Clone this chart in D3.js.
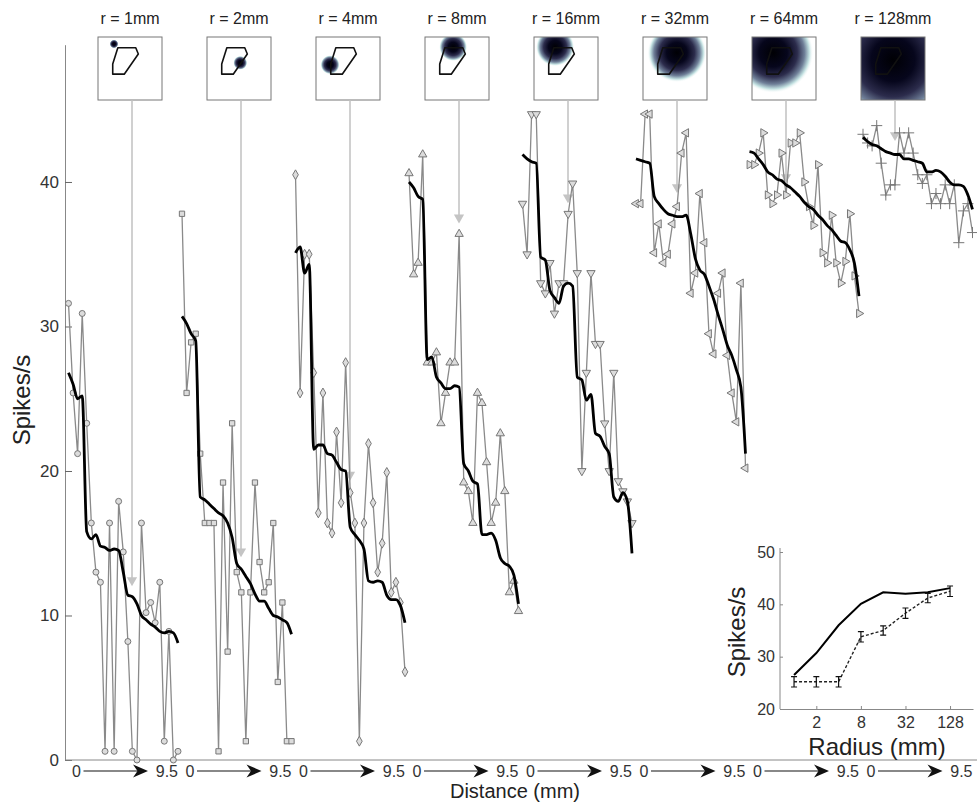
<!DOCTYPE html>
<html>
<head>
<meta charset="utf-8">
<script src="https://cdn.jsdelivr.net/npm/d3@7"></script>
<style>
  body { margin: 0; background: #fff; }
  svg { display: block; font-family: "Liberation Sans", Arial, sans-serif; }
</style>
</head>
<body>
<div id="chart"></div>
<script>
// stimulus radius for each panel (mm)
const radii = [1, 2, 4, 8, 16, 32, 64, 128];
const markers = ["circle", "square", "diamond", "triUp", "triDown", "triLeft", "triRight", "plus"];

// positions along the 0 -> 9.5 mm path
const distances = [0, 0.4, 0.79, 1.19, 1.58, 1.98, 2.38, 2.77, 3.17, 3.56, 3.96, 4.35, 4.75,
    5.15, 5.54, 5.94, 6.33, 6.73, 7.13, 7.52, 7.92, 8.31, 8.71, 9.1, 9.5];

// measured responses (grey markers), one list per radius
const resp1 = [31.6, 25.4, 21.2, 30.9, 23.3, 16.4, 13.0, 12.3, 0.6, 16.4, 0.6, 17.9, 14.4, 8.2, 0.6, 0.0, 16.4, 10.2, 10.9, 9.5, 12.3, 1.3, 8.9, 0.0, 0.6];
const resp2 = [37.8, 25.4, 28.9, 29.5, 21.2, 16.4, 16.4, 16.4, 0.6, 19.2, 7.5, 23.3, 13.0, 11.6, 1.3, 11.6, 19.2, 13.7, 11.6, 12.3, 16.4, 5.4, 10.9, 1.3, 1.3];
const resp3 = [40.5, 25.4, 35.0, 35.0, 26.8, 17.1, 25.4, 16.4, 15.7, 22.7, 17.8, 27.5, 18.5, 16.4, 1.3, 16.4, 21.9, 17.8, 13.0, 15.0, 19.9, 11.6, 12.3, 10.9, 6.1];
const resp4 = [40.6, 33.6, 34.4, 41.9, 27.5, 27.5, 28.2, 23.3, 25.4, 27.5, 27.5, 36.4, 19.2, 18.6, 16.4, 25.4, 24.7, 20.6, 16.4, 17.8, 22.6, 18.6, 11.6, 12.4, 10.3];
const resp5 = [38.5, 35.0, 44.7, 44.7, 33.0, 32.3, 34.4, 30.9, 33.0, 33.0, 37.8, 39.9, 33.7, 20.0, 26.8, 33.7, 28.8, 28.8, 23.3, 20.0, 26.8, 19.3, 18.6, 17.9, 16.4];
const resp6 = [38.5, 38.5, 44.7, 44.7, 35.1, 37.1, 34.4, 35.0, 37.1, 38.3, 42.0, 43.4, 32.3, 33.7, 39.2, 35.8, 29.5, 28.1, 32.3, 33.7, 28.0, 25.4, 23.4, 33.0, 20.2];
const resp7 = [41.2, 41.2, 42.0, 43.4, 39.1, 38.5, 39.1, 42.0, 39.1, 42.7, 42.7, 43.4, 40.0, 38.3, 37.0, 41.2, 35.1, 34.4, 37.7, 34.4, 33.0, 34.5, 37.8, 33.5, 30.9];
const resp8 = [43.3, 42.7, 42.5, 43.9, 41.3, 39.1, 39.8, 39.8, 43.4, 42.0, 43.4, 42.0, 40.5, 39.9, 40.5, 38.5, 39.2, 38.5, 39.8, 38.5, 39.8, 35.8, 38.0, 38.5, 36.5];

// smoothed responses (black curves)
const smooth1 = [26.8, 26.0, 25.0, 25.2, 15.8, 15.3, 15.6, 14.8, 14.7, 14.5, 14.6, 14.5, 13.0, 11.4, 11.3, 10.8, 10.0, 9.7, 9.4, 9.2, 8.9, 8.8, 8.9, 8.8, 8.1];
const smooth2 = [30.7, 30.2, 29.5, 29.0, 18.2, 18.0, 17.7, 17.4, 17.1, 16.9, 16.4, 15.4, 13.6, 13.2, 12.7, 12.2, 11.5, 11.0, 11.0, 10.5, 10.0, 9.9, 9.7, 9.5, 8.7];
const smooth3 = [35.1, 35.5, 33.7, 34.3, 21.5, 21.8, 21.8, 21.2, 21.1, 20.6, 20.1, 20.0, 16.1, 15.6, 15.2, 14.6, 12.4, 12.3, 12.4, 12.3, 11.4, 11.1, 11.1, 10.7, 9.5];
const smooth4 = [40.0, 39.6, 39.0, 38.8, 27.7, 27.9, 26.5, 26.1, 25.7, 25.7, 25.9, 25.8, 20.5, 20.0, 19.3, 19.1, 15.6, 15.6, 15.7, 15.2, 14.0, 13.6, 13.4, 12.8, 10.8];
const smooth5 = [41.9, 41.6, 41.4, 41.3, 34.8, 34.6, 32.5, 32.0, 31.6, 32.8, 33.0, 32.8, 26.5, 26.3, 24.9, 25.3, 22.6, 22.4, 21.7, 21.2, 18.2, 17.9, 18.5, 17.9, 14.3];
const smooth6 = [41.6, 41.5, 41.4, 41.3, 39.0, 38.5, 38.1, 37.8, 37.7, 37.6, 37.6, 37.7, 36.4, 34.7, 33.9, 33.6, 32.8, 31.9, 30.8, 29.8, 28.7, 28.0, 27.0, 25.8, 21.2];
const smooth7 = [42.1, 42.0, 41.6, 41.2, 40.7, 40.5, 40.2, 40.1, 39.8, 39.6, 39.3, 39.0, 38.6, 38.3, 38.1, 37.7, 37.4, 37.0, 36.7, 36.3, 35.9, 35.8, 35.3, 34.4, 32.1];
const smooth8 = [43.1, 42.8, 42.6, 42.5, 42.3, 42.1, 42.0, 41.9, 41.9, 41.6, 41.6, 41.5, 41.4, 41.3, 40.7, 40.7, 40.8, 40.7, 40.4, 40.0, 39.8, 39.8, 39.7, 39.1, 38.1];

// response with the stimulus on the RF centre (grey arrows)
const centreResp = [12.3, 14.3, 19.6, 37.4, 38.8, 39.5, 40.2, 43.1];

// inset: peak of smoothed curve, and mean +- error, against radius
const peakResp = [26.5, 30.7, 36.0, 40.1, 42.3, 42.0, 42.3, 43.1];
const meanResp = [25.2, 25.2, 25.2, 33.8, 35.0, 38.3, 41.2, 42.5];
const meanErr = [1.0, 1.0, 1.0, 1.0, 0.9, 1.0, 0.9, 1.0];

// stimulus spot in each thumbnail: centre x, centre y, radius (fraction of box)
const spots = [[0.25, 0.11, 0.07], [0.52, 0.41, 0.11], [0.22, 0.44, 0.15], [0.44, 0.16, 0.22],
    [0.33, 0.16, 0.30], [0.53, 0.25, 0.46], [0.33, 0.25, 0.63], [0.5, 0.36, 0.97]];
// receptive field outline (fraction of box)
const rfOutline = [[0.31, 0.17], [0.59, 0.17], [0.63, 0.27], [0.41, 0.59], [0.23, 0.59], [0.23, 0.43]];

const responses = [resp1, resp2, resp3, resp4, resp5, resp6, resp7, resp8];
const smoothed = [smooth1, smooth2, smooth3, smooth4, smooth5, smooth6, smooth7, smooth8];

const width = 977, height = 802;
const svg = d3.select("#chart").append("svg")
    .attr("width", width)
    .attr("height", height);

const y = d3.scaleLinear().domain([0, 49.5]).range([760, 44.7]);
const panelX = d3.scaleLinear().domain([0, 7]).range([68.5, 863]);
const panelW = 109.5;
const boxX = d3.scaleLinear().domain([0, 7]).range([98, 861]);
const boxW = 64, boxH = 63, boxTop = 37;

// marker shapes
const sym = {
    circle: d3.symbol(d3.symbolCircle, 28)(),
    square: d3.symbol(d3.symbolSquare, 28)(),
    diamond: d3.symbol(d3.symbolDiamond, 28)(),
    triUp: d3.symbol(d3.symbolTriangle, 30)(),
    triDown: d3.symbol(d3.symbolTriangle, 30)(),
    triLeft: d3.symbol(d3.symbolTriangle, 30)(),
    triRight: d3.symbol(d3.symbolTriangle, 30)(),
    plus: d3.symbol(d3.symbolPlus, 42)()
};
const rot = { triDown: 180, triLeft: -90, triRight: 90 };

// gradient for the stimulus spots (bone-like colour map)
const defs = svg.append("defs");
const grad = defs.append("radialGradient").attr("id", "spot");
[[0, "#000004", 1], [0.35, "#06061c", 1], [0.6, "#2c2c4c", 1], [0.78, "#6f7f98", 1],
 [0.9, "#c4e2e2", 1], [1, "#ffffff", 0]].forEach(s => {
    grad.append("stop").attr("offset", s[0]).attr("stop-color", s[1]).attr("stop-opacity", s[2]);
});

// y axis
svg.append("g")
    .attr("transform", "translate(65,0)")
    .call(d3.axisLeft(y).tickValues([0, 10, 20, 30, 40]).tickSizeInner(-7).tickSizeOuter(0).tickPadding(6))
    .call(g => g.select(".domain").attr("stroke", "#888"))
    .call(g => g.selectAll(".tick line").attr("stroke", "#666"))
    .call(g => g.selectAll("text").attr("font-size", 17).attr("fill", "#333")
        .attr("font-family", "Liberation Sans, Arial, sans-serif"));

svg.append("line")
    .attr("x1", 65).attr("x2", width)
    .attr("y1", y(0)).attr("y2", y(0))
    .attr("stroke", "#888");

svg.append("text")
    .attr("transform", "translate(30,400) rotate(-90)")
    .attr("text-anchor", "middle")
    .attr("font-size", 24)
    .attr("fill", "#222")
    .text("Spikes/s");

const line = d3.line().curve(d3.curveMonotoneX);

radii.forEach((r, k) => {
    const x = d3.scaleLinear().domain([0, 9.5]).range([panelX(k), panelX(k) + panelW]);
    const bx = boxX(k);
    const g = svg.append("g");

    // thumbnail
    const clipId = "clip" + k;
    defs.append("clipPath").attr("id", clipId)
        .append("rect").attr("x", bx).attr("y", boxTop).attr("width", boxW).attr("height", boxH);
    const sp = spots[k];
    g.append("circle")
        .attr("clip-path", `url(#${clipId})`)
        .attr("cx", bx + sp[0] * boxW)
        .attr("cy", boxTop + sp[1] * boxH)
        .attr("r", sp[2] * boxW)
        .attr("fill", "url(#spot)");
    g.append("path")
        .attr("d", d3.line()(rfOutline.map(p => [bx + p[0] * boxW, boxTop + p[1] * boxH])) + "Z")
        .attr("fill", "none")
        .attr("stroke", "#111")
        .attr("stroke-width", 1.6)
        .attr("stroke-linejoin", "round");
    g.append("rect")
        .attr("x", bx).attr("y", boxTop)
        .attr("width", boxW).attr("height", boxH)
        .attr("fill", "none")
        .attr("stroke", "#777")
        .attr("stroke-width", 1);
    g.append("text")
        .attr("x", bx + boxW / 2).attr("y", 24)
        .attr("text-anchor", "middle")
        .attr("font-size", 16)
        .attr("fill", "#222")
        .text(`r = ${r}mm`);

    // grey pointer to the RF centre response
    const ax = bx + boxW / 2 + 2;
    g.append("line")
        .attr("x1", ax).attr("x2", ax)
        .attr("y1", boxTop + boxH).attr("y2", y(centreResp[k]) - 4)
        .attr("stroke", "#c0c0c0")
        .attr("stroke-width", 1.5);
    g.append("path")
        .attr("transform", `translate(${ax},${y(centreResp[k]) - 2}) rotate(180)`)
        .attr("d", d3.symbol(d3.symbolTriangle, 45)())
        .attr("fill", "#c4c4c4");

    // measured responses
    const pts = distances.map((d, i) => [x(d), y(responses[k][i])]);
    g.append("path")
        .attr("d", d3.line()(pts))
        .attr("fill", "none")
        .attr("stroke", "#8a8a8a")
        .attr("stroke-width", 1.3);
    g.selectAll(".mk")
        .data(pts)
        .join("path")
        .attr("transform", d => `translate(${d[0]},${d[1]}) rotate(${rot[markers[k]] || 0})`)
        .attr("d", sym[markers[k]])
        .attr("fill", markers[k] === "plus" ? "none" : "#dcdcdc")
        .attr("stroke", "#777")
        .attr("stroke-width", 1);

    // smoothed curve
    g.append("path")
        .attr("d", line(distances.map((d, i) => [x(d), y(smoothed[k][i])])))
        .attr("fill", "none")
        .attr("stroke", "#000")
        .attr("stroke-width", 2.8)
        .attr("stroke-linejoin", "round");

    // distance labels below the axis
    const lab = svg.append("g").attr("fill", "#333").attr("font-size", 16);
    lab.append("text").attr("x", x(0) + 8).attr("y", 777).attr("text-anchor", "middle").text("0");
    lab.append("text").attr("x", x(9.5)).attr("y", 777).attr("text-anchor", "end").text("9.5");
    lab.append("line")
        .attr("x1", x(0) + 15).attr("x2", x(9.5) - 36)
        .attr("y1", 771).attr("y2", 771)
        .attr("stroke", "#888").attr("stroke-width", 2);
    lab.append("path")
        .attr("transform", `translate(${x(9.5) - 30},771)`)
        .attr("d", "M0,0L-15,-6.5L-10.5,0L-15,6.5Z")
        .attr("fill", "#111");
});

svg.append("text")
    .attr("x", 515).attr("y", 798)
    .attr("text-anchor", "middle")
    .attr("font-size", 20)
    .attr("fill", "#222")
    .text("Distance (mm)");

// inset: response vs radius
const xi = d3.scaleLog().base(2).domain([2 ** -0.63, 2 ** 8.03]).range([780, 973]);
const yi = d3.scaleLinear().domain([20, 50]).range([709, 552]);
const inset = svg.append("g");

inset.append("g")
    .attr("transform", "translate(780,0)")
    .call(d3.axisLeft(yi).tickValues([20, 30, 40, 50]).tickSizeInner(-3).tickSizeOuter(0).tickPadding(5))
    .call(g => g.select(".domain").attr("stroke", "#888").attr("d", "M0,548V709"))
    .call(g => g.selectAll(".tick line").attr("stroke", "#888"))
    .call(g => g.selectAll("text").attr("font-size", 16).attr("fill", "#333")
        .attr("font-family", "Liberation Sans, Arial, sans-serif"));

inset.append("g")
    .attr("transform", "translate(0,709)")
    .call(d3.axisBottom(xi).tickValues([2, 8, 32, 128]).tickFormat(d3.format("d"))
        .tickSizeInner(-3).tickSizeOuter(0).tickPadding(8))
    .call(g => g.select(".domain").attr("stroke", "#888"))
    .call(g => g.selectAll(".tick line").attr("stroke", "#888"))
    .call(g => g.selectAll("text").attr("font-size", 16).attr("fill", "#333")
        .attr("font-family", "Liberation Sans, Arial, sans-serif"));

inset.append("path")
    .attr("d", d3.line()(radii.map((r, i) => [xi(r), yi(peakResp[i])])))
    .attr("fill", "none")
    .attr("stroke", "#000")
    .attr("stroke-width", 2);

inset.append("path")
    .attr("d", d3.line()(radii.map((r, i) => [xi(r), yi(meanResp[i])])))
    .attr("fill", "none")
    .attr("stroke", "#222")
    .attr("stroke-width", 1.4)
    .attr("stroke-dasharray", "3,2");

inset.selectAll(".eb")
    .data(radii.map((r, i) => ({ x: xi(r), lo: yi(meanResp[i] - meanErr[i]), hi: yi(meanResp[i] + meanErr[i]) })))
    .join("path")
    .attr("d", d => `M${d.x},${d.lo}V${d.hi}M${d.x - 3},${d.lo}H${d.x + 3}M${d.x - 3},${d.hi}H${d.x + 3}`)
    .attr("fill", "none")
    .attr("stroke", "#111")
    .attr("stroke-width", 1.2);

inset.append("text")
    .attr("transform", "translate(745,632) rotate(-90)")
    .attr("text-anchor", "middle")
    .attr("font-size", 24)
    .attr("fill", "#222")
    .text("Spikes/s");

inset.append("text")
    .attr("x", 877).attr("y", 755)
    .attr("text-anchor", "middle")
    .attr("font-size", 24)
    .attr("fill", "#222")
    .text("Radius (mm)");
</script>
</body>
</html>
